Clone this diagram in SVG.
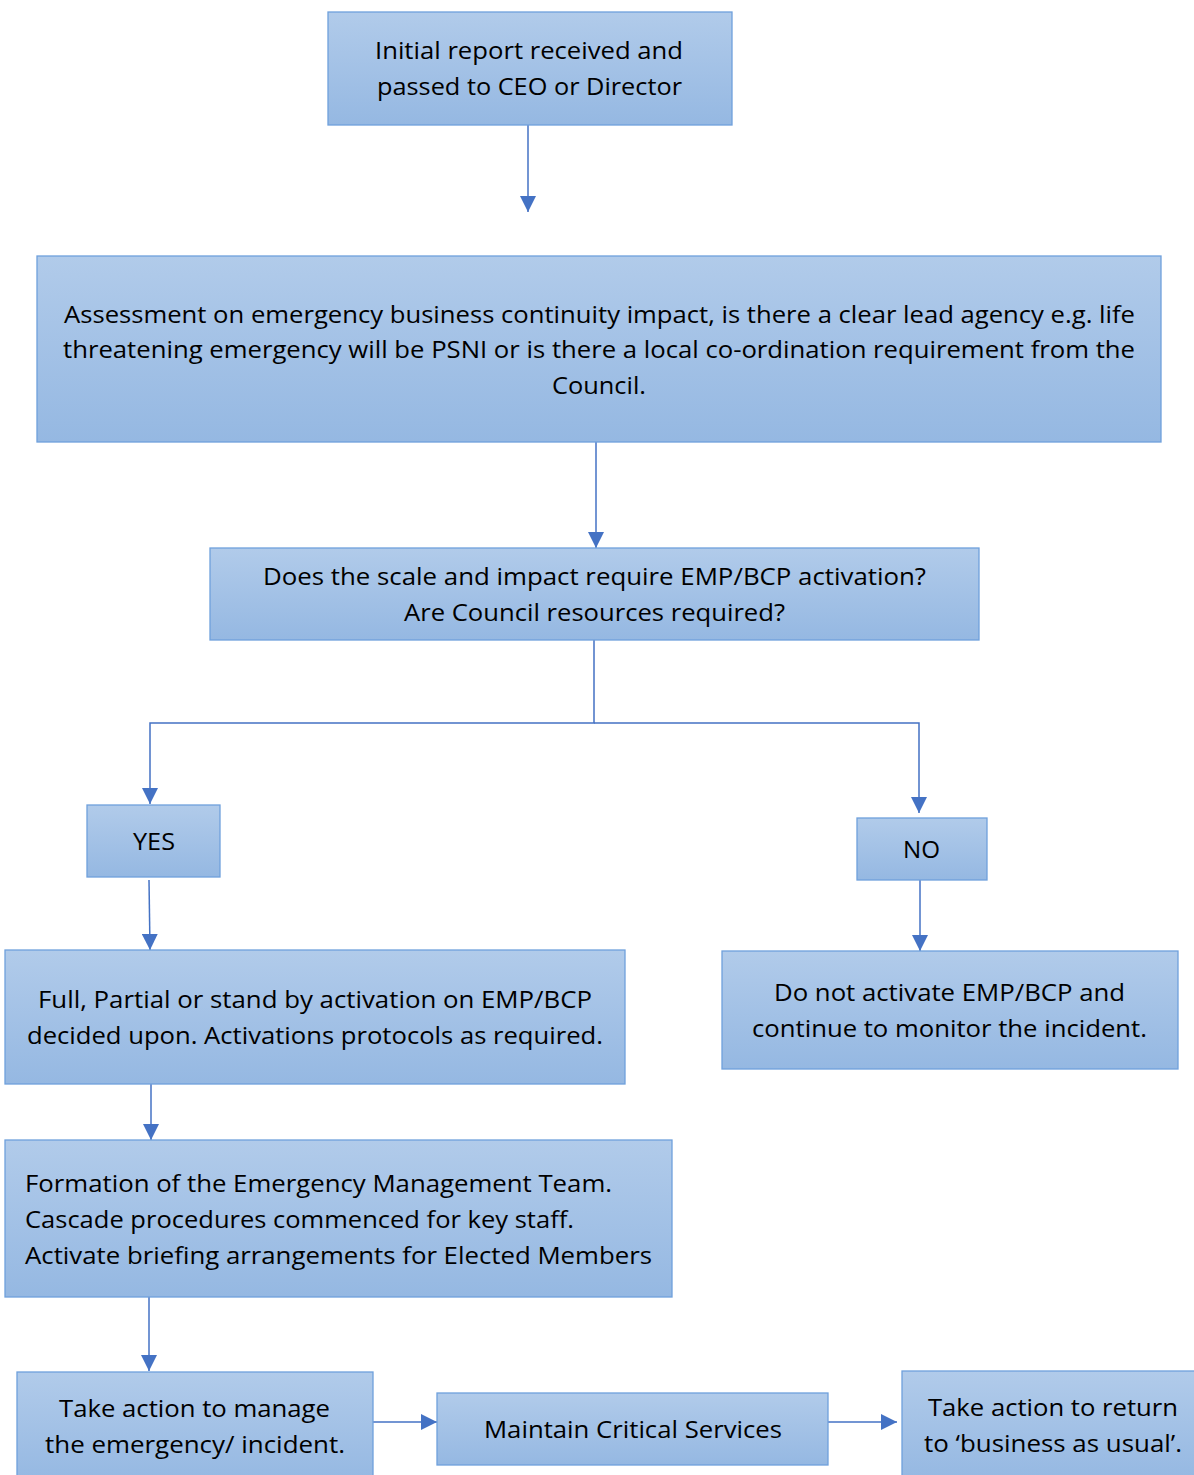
<svg xmlns="http://www.w3.org/2000/svg" width="1194" height="1475" viewBox="0 0 1194 1475">
<defs>
<linearGradient id="g" x1="0" y1="0" x2="0" y2="1">
<stop offset="0" stop-color="#b1cbea"/>
<stop offset="1" stop-color="#95b8e2"/>
</linearGradient>
<marker id="ah" viewBox="0 0 10 10" refX="10" refY="5" markerWidth="16" markerHeight="16" markerUnits="userSpaceOnUse" orient="auto">
<path d="M0,0 L10,5 L0,10 z" fill="#4472c4"/>
</marker>
</defs>
<style>
.box{fill:url(#g);stroke:#6fa0dc;stroke-width:1.3}
text{font-family:"Open Sans","Noto Sans","Liberation Sans",sans-serif;font-size:24px;fill:#000}
.ln{fill:none;stroke:#4472c4;stroke-width:1.5}
</style>
<rect width="1194" height="1475" fill="#fff"/>
<g id="connectors">
<path class="ln" d="M528,125 V212" marker-end="url(#ah)"/>
<path class="ln" d="M596,442 V548" marker-end="url(#ah)"/>
<path class="ln" d="M594,640 V723 H150 V804" marker-end="url(#ah)"/>
<path class="ln" d="M594,723 H919 V813" marker-end="url(#ah)"/>
<path class="ln" d="M149,880 L150,950" marker-end="url(#ah)"/>
<path class="ln" d="M920,880 V951" marker-end="url(#ah)"/>
<path class="ln" d="M151,1084 V1140" marker-end="url(#ah)"/>
<path class="ln" d="M149,1297 V1371" marker-end="url(#ah)"/>
<path class="ln" d="M373,1422 H437" marker-end="url(#ah)"/>
<path class="ln" d="M828,1422 H897" marker-end="url(#ah)"/>
</g>
<g id="n1">
<rect class="box" x="328" y="12" width="404" height="113"/>
<text x="375" y="59" textLength="308" lengthAdjust="spacingAndGlyphs">Initial report received and</text>
<text x="377" y="95" textLength="305" lengthAdjust="spacingAndGlyphs">passed to CEO or Director</text>
</g>
<g id="n2">
<rect class="box" x="37" y="256" width="1124" height="186"/>
<text x="64" y="323" textLength="1071" lengthAdjust="spacingAndGlyphs">Assessment on emergency business continuity impact, is there a clear lead agency e.g. life</text>
<text x="63" y="358" textLength="1072" lengthAdjust="spacingAndGlyphs">threatening emergency will be PSNI or is there a local co-ordination requirement from the</text>
<text x="552" y="394" textLength="94" lengthAdjust="spacingAndGlyphs">Council.</text>
</g>
<g id="n3">
<rect class="box" x="210" y="548" width="769" height="92"/>
<text x="263" y="585" textLength="663" lengthAdjust="spacingAndGlyphs">Does the scale and impact require EMP/BCP activation?</text>
<text x="404" y="621" textLength="381" lengthAdjust="spacingAndGlyphs">Are Council resources required?</text>
</g>
<g id="yes">
<rect class="box" x="87" y="805" width="133" height="72"/>
<text x="133" y="850" textLength="42" lengthAdjust="spacingAndGlyphs">YES</text>
</g>
<g id="no">
<rect class="box" x="857" y="818" width="130" height="62"/>
<text x="903" y="858" textLength="37" lengthAdjust="spacingAndGlyphs">NO</text>
</g>
<g id="n4">
<rect class="box" x="5" y="950" width="620" height="134"/>
<text x="38" y="1008" textLength="554" lengthAdjust="spacingAndGlyphs">Full, Partial or stand by activation on EMP/BCP</text>
<text x="27" y="1044" textLength="576" lengthAdjust="spacingAndGlyphs">decided upon. Activations protocols as required.</text>
</g>
<g id="n5">
<rect class="box" x="722" y="951" width="456" height="118"/>
<text x="774" y="1001" textLength="351" lengthAdjust="spacingAndGlyphs">Do not activate EMP/BCP and</text>
<text x="752" y="1037" textLength="395" lengthAdjust="spacingAndGlyphs">continue to monitor the incident.</text>
</g>
<g id="n6">
<rect class="box" x="5" y="1140" width="667" height="157"/>
<text x="25" y="1192" textLength="587" lengthAdjust="spacingAndGlyphs">Formation of the Emergency Management Team.</text>
<text x="25" y="1228" textLength="549" lengthAdjust="spacingAndGlyphs">Cascade procedures commenced for key staff.</text>
<text x="25" y="1264" textLength="627" lengthAdjust="spacingAndGlyphs">Activate briefing arrangements for Elected Members</text>
</g>
<g id="n7">
<rect class="box" x="17" y="1372" width="356" height="110"/>
<text x="59" y="1417" textLength="271" lengthAdjust="spacingAndGlyphs">Take action to manage</text>
<text x="45" y="1453" textLength="300" lengthAdjust="spacingAndGlyphs">the emergency/ incident.</text>
</g>
<g id="n8">
<rect class="box" x="437" y="1393" width="391" height="72"/>
<text x="484" y="1438" textLength="298" lengthAdjust="spacingAndGlyphs">Maintain Critical Services</text>
</g>
<g id="n9">
<rect class="box" x="902" y="1371" width="300" height="110"/>
<text x="928" y="1416" textLength="250" lengthAdjust="spacingAndGlyphs">Take action to return</text>
<text x="924" y="1452" textLength="258" lengthAdjust="spacingAndGlyphs">to ‘business as usual’.</text>
</g>
</svg>
